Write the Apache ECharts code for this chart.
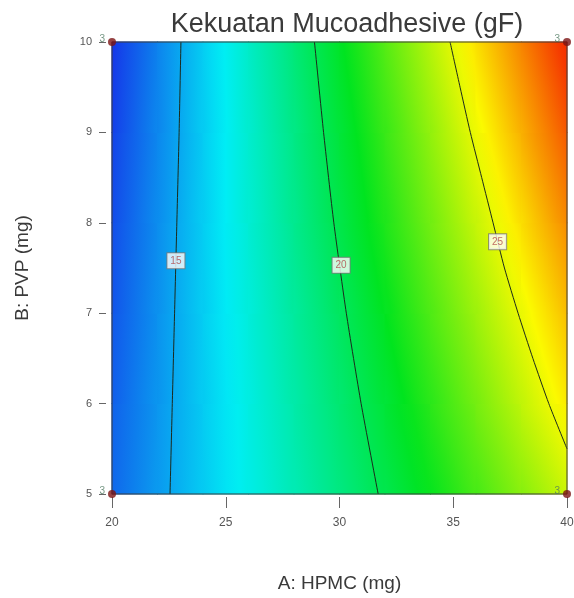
<!DOCTYPE html>
<html>
<head>
<meta charset="utf-8">
<script src="https://cdn.jsdelivr.net/npm/echarts@6/dist/echarts.min.js"></script>
<style>
html,body{margin:0;padding:0;background:#fff;}
#c{width:574px;height:598px;}
</style>
</head>
<body>
<div id="c"></div>
<script>
// ---- data ----
const title = 'Kekuatan Mucoadhesive (gF)';
const xName = 'A: HPMC (mg)';
const yName = 'B: PVP (mg)';
const hpmc = [20,22,24,26,28,30,32,34,36,38,40];      // grid columns (A)
const pvp = [5,6,7,8,9,10];                            // grid rows (B)
// estimated response at each (A,B) grid node, rows by pvp
const kekuatan = [
  [13.6,14.7,15.8,16.9,17.95,19.05,20.15,21.25,22.35,23.5,24.6],
  [13.4,14.6,15.8,17.0,18.2,19.4,20.6,21.85,23.15,24.45,25.75],
  [13.15,14.5,15.85,17.15,18.45,19.75,21.1,22.5,23.85,25.2,26.55],
  [12.95,14.4,15.85,17.3,18.75,20.2,21.65,23.1,24.55,26.0,27.45],
  [12.7,14.25,15.8,17.4,18.95,20.55,22.1,23.65,25.25,26.8,28.35],
  [12.4,14.15,15.85,17.55,19.25,20.95,22.6,24.3,25.95,27.6,29.2]
];
const colorMin = 12.4, colorMax = 29.2;
// contour lines [A,B]
const contour15 = [[23.03,10],[22.95,9],[22.85,8],[22.75,7],[22.65,6],[22.55,5]];
const contour20 = [[28.9,10],[29.3,9],[29.75,8],[30.3,7],[30.95,6],[31.7,5]];
const contour25 = [[34.86,10],[35.3,9.5],[35.75,9],[36.25,8.5],[36.75,8],[37.25,7.5],[37.85,7],[38.5,6.5],[39.2,6],[40,5.5]];
const contourLabels = [[22.81,7.58,'15'],[30.07,7.53,'20'],[36.95,7.79,'25']];
// design points [A,B,replicates]
const designPts = [[20,5,'3'],[40,5,'3'],[20,10,'3'],[40,10,'3']];
const xTicks = {min:20,max:40,interval:5};
const yTicks = {min:5,max:10,interval:1};

// ---- rendering ----
const palette = [[0,[22,52,232]],[0.25,[0,238,245]],[0.52,[0,228,30]],[0.78,[252,250,0]],[1,[244,40,0]]];
function colorOf(v){
  let t = (v-colorMin)/(colorMax-colorMin);
  t = Math.max(0,Math.min(1,t));
  for(let k=1;k<palette.length;k++){
    if(t<=palette[k][0]){
      const a=palette[k-1],b=palette[k];
      const s=(t-a[0])/(b[0]-a[0]);
      const c=a[1].map((x,i)=>Math.round(x+(b[1][i]-x)*s));
      return 'rgb('+c.join(',')+')';
    }
  }
  return 'rgb('+palette[palette.length-1][1].join(',')+')';
}
const cells=[];
for(let j=0;j<pvp.length-1;j++)for(let i=0;i<hpmc.length-1;i++)cells.push([hpmc[i],pvp[j],i,j]);

function renderCell(params,api){
  const i=api.value(2), j=api.value(3);
  const p00=api.coord([hpmc[i],pvp[j]]), p11=api.coord([hpmc[i+1],pvp[j+1]]);
  const x0=p00[0],x1=p11[0],yb=p00[1],yt=p11[1];
  const W=x1-x0,H=yb-yt;
  const f00=kekuatan[j][i],f10=kekuatan[j][i+1],f01=kekuatan[j+1][i],f11=kekuatan[j+1][i+1];
  const b=((f10-f00)+(f11-f01))/2, c=((f01-f00)+(f11-f10))/2;
  const fc=(f00+f10+f01+f11)/4;
  const gx=b/W, gy=-c/H;
  const g=Math.sqrt(gx*gx+gy*gy);
  const cx=(x0+x1)/2, cy=(yb+yt)/2;
  const L=Math.sqrt(W*W+H*H)/2;
  let fill;
  if(g<1e-9){fill=colorOf(fc);}else{
    const nx=gx/g, ny=gy/g;
    const stops=[];
    const N=8;
    for(let k=0;k<=N;k++){
      const v=fc-g*L+2*g*L*k/N;
      stops.push({offset:k/N,color:colorOf(v)});
    }
    fill=new echarts.graphic.LinearGradient(cx-nx*L,cy-ny*L,cx+nx*L,cy+ny*L,stops,true);
  }
  return {type:'rect',shape:{x:x0-0.5,y:yt-0.5,width:W+1,height:H+1},style:{fill:fill},silent:true};
}

const FONT='Liberation Sans, Arial, sans-serif';
const chart=echarts.init(document.getElementById('c'),null,{renderer:'canvas'});
const contourLine=(d)=>({type:'line',data:d,symbol:'none',smooth:0.2,z:4,
  lineStyle:{color:'#1c2a1c',width:1},silent:true,animation:false});
chart.setOption({
  animation:false,
  backgroundColor:'#ffffff',
  title:{text:title,left:342,top:6,textAlign:'center',
    textStyle:{fontFamily:FONT,fontSize:27,fontWeight:'normal',color:'#3a3a3a'}},
  grid:{left:112,right:7,top:42,bottom:104,show:true,z:10,borderColor:'#3a3a3a',borderWidth:1,
    backgroundColor:'transparent',containLabel:false,outerBoundsMode:'none'},
  xAxis:{type:'value',min:xTicks.min,max:xTicks.max,interval:xTicks.interval,offset:3,
    name:xName,nameLocation:'middle',nameGap:77,
    nameTextStyle:{fontFamily:FONT,fontSize:19,color:'#3a3a3a'},
    axisLine:{show:false},axisTick:{show:true,length:11,lineStyle:{color:'#666'}},
    axisLabel:{margin:20,fontSize:12,color:'#555',fontFamily:FONT},
    splitLine:{show:false}},
  yAxis:{type:'value',min:yTicks.min,max:yTicks.max,interval:yTicks.interval,offset:6,
    name:yName,nameLocation:'middle',nameGap:74,nameRotate:90,
    nameTextStyle:{fontFamily:FONT,fontSize:19,color:'#3a3a3a'},
    axisLine:{show:false},axisTick:{show:true,length:7,lineStyle:{color:'#666'}},
    axisLabel:{margin:14,fontSize:11,color:'#555',fontFamily:FONT},
    splitLine:{show:false}},
  series:[
    {type:'custom',data:cells,encode:{x:0,y:1},renderItem:renderCell,z:1,silent:true},
    contourLine(contour15),contourLine(contour20),contourLine(contour25),
    {type:'scatter',z:6,symbolSize:1,itemStyle:{color:'rgba(0,0,0,0)'},
      data:contourLabels.map(d=>({value:[d[0],d[1]],name:d[2]})),
      label:{show:true,position:'inside',formatter:p=>p.name,fontSize:10,
        color:'#b04848',backgroundColor:'#ffffff',borderColor:'#7a7a7a',borderWidth:1,padding:[3,3,2,3],
        fontFamily:FONT}},
    {type:'scatter',z:12,symbol:'circle',symbolSize:8,itemStyle:{color:'#7c1414'},
      data:designPts.map(d=>({value:[d[0],d[1]],name:d[2]})),
      label:{show:true,position:'left',distance:3,offset:[0,-3],formatter:p=>p.name,fontSize:10,color:'#4f7a62',
        fontFamily:FONT}}
  ]
});
</script>
</body>
</html>
